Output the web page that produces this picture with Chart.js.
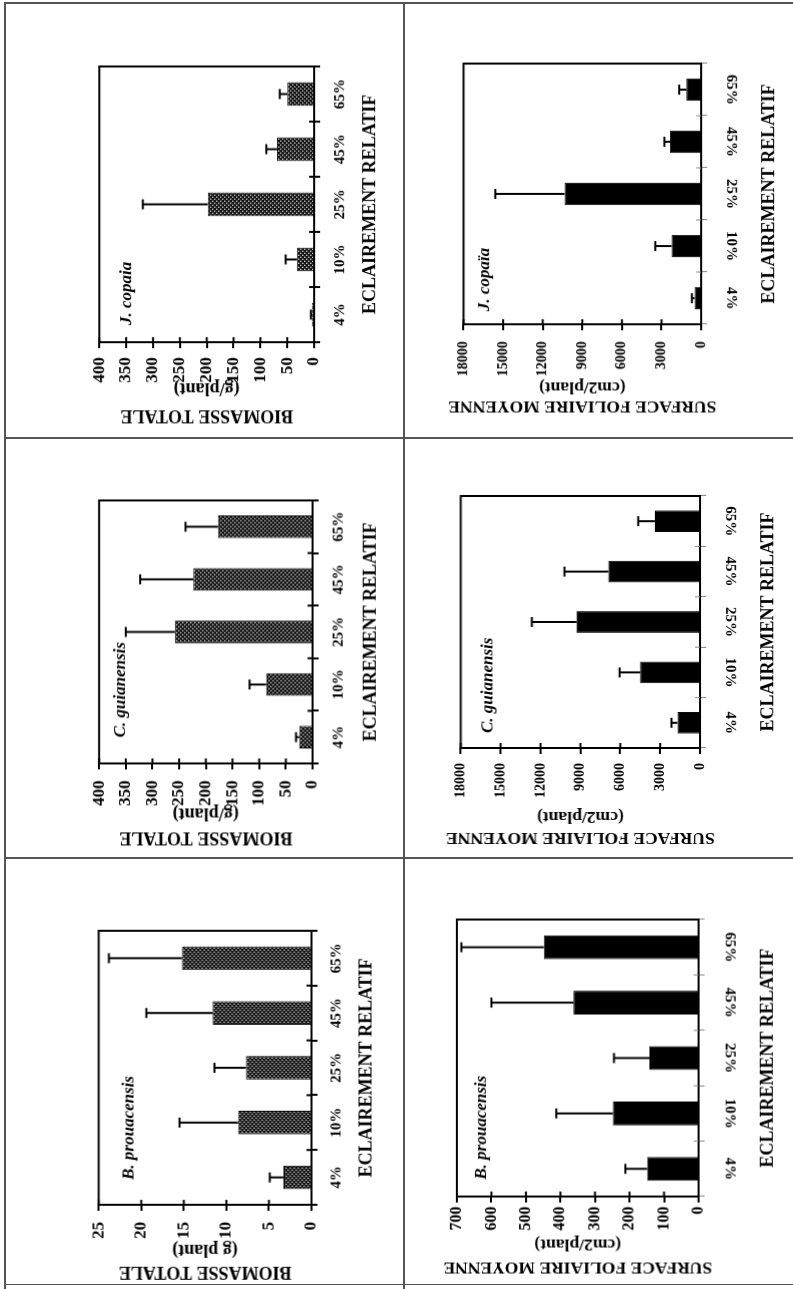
<!DOCTYPE html>
<html>
<head>
<meta charset="utf-8">
<script src="https://cdn.jsdelivr.net/npm/chart.js@4.4.1/dist/chart.umd.min.js"></script>
<style>
  body { margin: 0; background: #fff; }
  #page { position: relative; width: 793px; height: 1289px; overflow: hidden; background: #fff; }
  .rule { position: absolute; background: #555; }
  .cell { position: absolute; }
  .cell canvas { position: absolute; transform: rotate(-90deg); }
</style>
</head>
<body>
<div id="page"></div>
<script>
const categories = ['4%', '10%', '25%', '45%', '65%'];

// biomasse totale (g/plant), moyenne et écart-type
const bioProuacensis = [3.3, 8.6, 7.7, 11.6, 15.2];
const bioProuacensisErr = [1.6, 6.9, 3.7, 7.8, 8.6];
const bioGuianensis = [25, 87, 258, 223, 177];
const bioGuianensisErr = [6, 31, 92, 100, 61];
const bioCopaia = [4, 32, 198, 69, 50];
const bioCopaiaErr = [2, 21, 121, 20, 14];

// surface foliaire moyenne (cm2/plant)
const surfProuacensis = [149, 248, 142, 362, 448];
const surfProuacensisErr = [63, 164, 103, 238, 239];
const surfGuianensis = [1700, 4500, 9300, 6900, 3400];
const surfGuianensisErr = [450, 1550, 3350, 3300, 1250];
const surfCopaia = [500, 2230, 10350, 2350, 1110];
const surfCopaiaErr = [200, 1240, 5240, 430, 550];

const FAM = "'Liberation Serif', 'Times New Roman', serif";
const page = document.getElementById('page');

// page frame
[[4, 2, 789, 1.5], [4, 2, 1.5, 1287], [403, 2, 1.5, 1287],
 [4, 437, 789, 1.5], [4, 857, 789, 1.5], [4, 1284, 789, 1]].forEach(([l, t, w, h]) => {
  const d = document.createElement('div');
  d.className = 'rule';
  d.style.cssText += `left:${l}px;top:${t}px;width:${w}px;height:${h}px`;
  page.appendChild(d);
});

// dotted fill used for the biomass bars
function stipple() {
  const c = document.createElement('canvas');
  c.width = 4; c.height = 4;
  const g = c.getContext('2d');
  g.fillStyle = '#111';
  g.fillRect(0, 0, 4, 4);
  g.fillStyle = '#e2e2e2';
  g.fillRect(0, 0, 1.3, 1.3);
  g.fillRect(2, 2, 1.3, 1.3);
  return g.createPattern(c, 'repeat');
}

const bio = {
  title: ['BIOMASSE TOTALE', '(g/plant)'], dotted: true, flip: false,
  tickColor: '#000', tickWidth: 2
};
const surf = {
  title: ['SURFACE FOLIAIRE MOYENNE', '(cm2/plant)'], dotted: false, flip: true,
  tickColor: '#888', tickWidth: 1
};

const panels = [
  { ...bio, box: [95, 314.3, 66.7, 342.3], mean: bioCopaia, err: bioCopaiaErr, max: 400, step: 50,
    name: 'J. copaia', sx: 17, sy: 27, catDist: 26, axisDist: 56, d1: 73, d2: 46, tickPad: 9, tickSize: 17 },
  { ...bio, box: [92.7, 312.3, 500, 763.3], mean: bioGuianensis, err: bioGuianensisErr, max: 400, step: 50,
    name: 'C. guianensis', sx: 26, sy: 21, catDist: 26, axisDist: 58, d1: 74, d2: 50, tickPad: 11, tickSize: 17 },
  { ...bio, title: ['BIOMASSE TOTALE', '(g plant)'], box: [92.7, 312, 930.7, 1205], mean: bioProuacensis, err: bioProuacensisErr,
    max: 25, step: 5, name: 'B. prouacensis', sx: 25, sy: 30, catDist: 25, axisDist: 55, d1: 67, d2: 45, tickPad: 11, tickSize: 17 },
  { ...surf, box: [459.3, 701.7, 64.3, 325], mean: surfCopaia, err: surfCopaiaErr,
    max: 18000, step: 3000, name: 'J. copaïa', sx: 13, sy: 21, catDist: 30, axisDist: 68, d1: 82, d2: 63, tickPad: 11, tickSize: 14 },
  { ...surf, box: [458.3, 700, 496, 748.3], mean: surfGuianensis, err: surfGuianensisErr, max: 18000, step: 3000,
    name: 'C. guianensis', sx: 15, sy: 27, catDist: 30, axisDist: 68, d1: 90, d2: 69, tickPad: 9, tickSize: 14 },
  { ...surf, box: [457.3, 699, 919.3, 1196.7], mean: surfProuacensis, err: surfProuacensisErr, max: 700, step: 100,
    name: 'B. prouacensis', sx: 17, sy: 25, catDist: 31, axisDist: 69, d1: 71, d2: 48, tickPad: 4, tickSize: 16 }
];

function seg(ctx, x0, y0, x1, y1) {
  ctx.beginPath();
  ctx.moveTo(x0, y0);
  ctx.lineTo(x1, y1);
  ctx.stroke();
}

function drawPanel(chart, p) {
  const { ctx, chartArea: a, scales: { x, y } } = chart;
  ctx.save();
  ctx.strokeStyle = '#000';
  ctx.lineWidth = 2;
  ctx.strokeRect(a.left, a.top, a.right - a.left, a.bottom - a.top);

  // value ticks cross the axis
  y.ticks.forEach(t => {
    const py = y.getPixelForValue(t.value);
    seg(ctx, a.left, py, a.left + 5, py);
  });
  ctx.strokeStyle = p.tickColor;
  ctx.lineWidth = p.tickWidth;
  for (let i = 1; i < categories.length; i++) {
    const px = (x.getPixelForValue(i - 1) + x.getPixelForValue(i)) / 2;
    seg(ctx, px, a.bottom - 5, px, a.bottom);
  }

  // error bars (upper side only)
  ctx.strokeStyle = '#000';
  ctx.lineWidth = 2;
  p.mean.forEach((m, i) => {
    const px = x.getPixelForValue(i);
    const y0 = y.getPixelForValue(m);
    const y1 = y.getPixelForValue(m + p.err[i]);
    seg(ctx, px, y0, px, y1);
    seg(ctx, px - 5, y1, px + 5, y1);
  });

  ctx.fillStyle = '#000';
  ctx.textBaseline = 'middle';

  // species name
  ctx.font = `italic bold 17px ${FAM}`;
  ctx.textAlign = 'left';
  ctx.fillText(p.name, a.left + p.sx, a.top + p.sy);

  // category labels (upside down on the leaf-area panels)
  ctx.font = `bold 15px ${FAM}`;
  ctx.textAlign = 'center';
  categories.forEach((c, i) => {
    ctx.save();
    ctx.translate(x.getPixelForValue(i), a.bottom + p.catDist);
    if (p.flip) ctx.rotate(Math.PI);
    ctx.fillText(c, 0, 0);
    ctx.restore();
  });

  ctx.font = `bold 18px ${FAM}`;
  ctx.fillText('ECLAIREMENT RELATIF', (a.left + a.right) / 2, a.bottom + p.axisDist);

  // value axis title, two lines
  const midY = (a.top + a.bottom) / 2;
  [[p.title[0], p.d1], [p.title[1], p.d2]].forEach(([txt, d]) => {
    ctx.save();
    ctx.translate(a.left - d, midY);
    ctx.rotate(-Math.PI / 2);
    ctx.font = `bold ${p.title[0].length > 16 ? 17.5 : 18}px ${FAM}`;
    ctx.fillText(txt, 0, 0);
    ctx.restore();
  });
  ctx.restore();
}

function makePanel(p) {
  const M = 100, R = 90, T = 15;
  const [xL, xR, yT, yB] = p.box;
  const cx = xL - T, cy = yT - T;
  const cw = xR + R - cx, ch = yB + M - cy;

  const cell = document.createElement('div');
  cell.className = 'cell';
  cell.style.cssText = `left:${cx}px;top:${cy}px;width:${cw}px;height:${ch}px`;
  const cv = document.createElement('canvas');
  cv.width = ch;
  cv.height = cw;
  cv.style.width = ch + 'px';
  cv.style.height = cw + 'px';
  cv.style.left = (cw - ch) / 2 + 'px';
  cv.style.top = (ch - cw) / 2 + 'px';
  cell.appendChild(cv);
  page.appendChild(cell);

  const ctx = cv.getContext('2d');
  new Chart(ctx, {
    type: 'bar',
    data: {
      labels: categories,
      datasets: [{
        data: p.mean,
        backgroundColor: p.dotted ? stipple() : '#000',
        borderColor: '#000',
        borderWidth: 1,
        categoryPercentage: 1,
        barPercentage: 0.43
      }]
    },
    options: {
      responsive: false,
      animation: false,
      devicePixelRatio: 1,
      layout: { padding: { left: 0, right: T, top: T, bottom: 0 } },
      plugins: { legend: { display: false }, tooltip: { enabled: false } },
      scales: {
        x: {
          offset: true,
          ticks: { display: false },
          grid: { offset: true, drawOnChartArea: false, tickLength: 6, color: p.tickColor, lineWidth: p.tickWidth },
          border: { color: '#000', width: 2 },
          afterFit: s => { s.height = R; }
        },
        y: {
          min: 0,
          max: p.max,
          ticks: {
            stepSize: p.step, color: '#000', padding: p.tickPad,
            font: { family: FAM, size: p.tickSize, weight: 'bold' },
            callback: v => String(v)
          },
          grid: { drawOnChartArea: false, tickLength: 6, color: '#000', lineWidth: 2 },
          border: { color: '#000', width: 2 },
          afterFit: s => { s.width = M; }
        }
      }
    },
    plugins: [{ id: 'panel', afterDraw: chart => drawPanel(chart, p) }]
  });
}

panels.forEach(makePanel);
</script>
</body>
</html>
